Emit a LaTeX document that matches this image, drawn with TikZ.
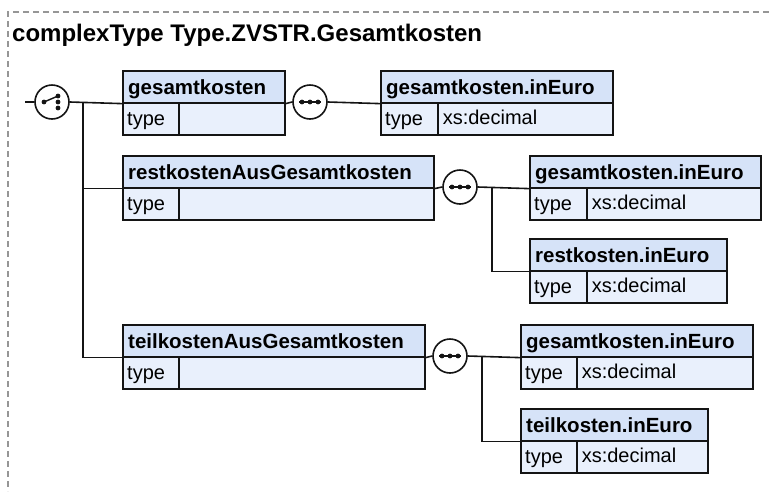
\documentclass[tikz,border=0pt]{standalone}
\usepackage{fontspec}
\setmainfont{Liberation Sans}
\definecolor{hdrc}{RGB}{214,227,248}
\definecolor{bdyc}{RGB}{233,240,252}
\definecolor{framec}{RGB}{150,150,150}
\definecolor{linec}{RGB}{20,20,20}
\tikzset{
  boxpart/.style={rectangle, draw=linec, line width=1.6pt, minimum height=32pt, inner sep=0pt, anchor=north west},
  hdrbox/.style={boxpart, fill=hdrc},
  bdybox/.style={boxpart, fill=bdyc},
  hdrtext/.style={anchor=base west, inner sep=0pt, font=\fontsize{20.5}{24}\selectfont\bfseries},
  bdytext/.style={anchor=base west, inner sep=0pt, font=\fontsize{20}{24}\selectfont},
  circ/.style={circle, draw=linec, fill=white, line width=1.6pt, minimum size=34pt, inner sep=0pt},
  conn/.style={draw=linec, line width=1.6pt},
}
% #1 name, #2 left x, #3 top y, #4 width, #5 title, #6 type column x, #7 type value
\newcommand\elbox[7]{%
  \node[bdybox, minimum width=#4] (#1b) at (#2,-#3-32) {};
  \node[bdybox, minimum width=#6-#2] (#1t) at (#2,-#3-32) {};
  \node[hdrbox, minimum width=#4] (#1) at (#2,-#3) {};
  \node[hdrtext] (#1n) at ([shift={(6,9)}]#1.south west) {#5};
  \node[bdytext] (#1k) at ([shift={(5,-22)}]#1.south west) {type};
  \node[bdytext] (#1v) at ([shift={(4,-22)}]#1t.north east) {#7};
}
\begin{document}
\begin{tikzpicture}[x=1pt,y=1pt]
\useasboundingbox (0,0) rectangle (769,-491);
% frame
\draw[framec, line width=1.3pt, dash pattern=on 6pt off 4pt] (769,-12) -- (8,-12) -- (8,-491);
% title
\node[anchor=base west, inner sep=0pt, font=\fontsize{24}{28}\selectfont\bfseries] (title) at (12,-41) {complexType Type.ZVSTR.Gesamtkosten};

% boxes
\elbox{g}{122}{70}{162}{gesamtkosten}{178}{}
\elbox{gi}{380}{70}{232}{gesamtkosten.inEuro}{437}{xs:decimal}
\elbox{r}{122}{155}{311}{restkostenAusGesamtkosten}{178}{}
\elbox{rg}{529}{155}{231}{gesamtkosten.inEuro}{586}{xs:decimal}
\elbox{rr}{529}{238}{197}{restkosten.inEuro}{586}{xs:decimal}
\elbox{t}{122}{324}{302}{teilkostenAusGesamtkosten}{178}{}
\elbox{tg}{520}{324}{232}{gesamtkosten.inEuro}{576}{xs:decimal}
\elbox{tt}{520}{408}{187}{teilkosten.inEuro}{576}{xs:decimal}

% choice
\coordinate (in) at (25,-102);
\node[circ] (ch) at (52,-102) {};
\coordinate (j1) at (83,-102);
\draw[conn] (in) -- (ch.west);
\draw[conn] (ch.east) -- (g.south west);
\draw[conn] (j1) |- (r.south west);
\draw[conn] (j1) |- (t.south west);
\draw[conn, line width=1.4pt] ([shift={(-8,0)}]ch.center) -- ([shift={(6,6)}]ch.center);
\fill[linec] ([shift={(-8,0)}]ch.center) circle (2.4);
\fill[linec] ([shift={(6,6)}]ch.center) circle (2.4);
\fill[linec] ([shift={(6,0)}]ch.center) circle (2.4);
\fill[linec] ([shift={(6,-6)}]ch.center) circle (2.4);

% sequences
\node[circ] (s1) at (310,-102) {};
\node[circ] (s2) at (460,-187) {};
\node[circ] (s3) at (450,-356) {};
\foreach \s in {s1,s2,s3}{
  \draw[conn, line width=1.4pt] ([shift={(-11,0)}]\s.center) -- ([shift={(11,0)}]\s.center);
  \fill[linec] ([shift={(-8,0)}]\s.center) circle (2.4);
  \fill[linec] ([shift={(0,0)}]\s.center) circle (2.4);
  \fill[linec] ([shift={(8,0)}]\s.center) circle (2.4);
}
\draw[conn] (g.south east) -- (s1.west);
\draw[conn] (s1.east) -- (gi.south west);

\coordinate (j2) at (492,-187);
\draw[conn] (r.south east) -- (s2.west);
\draw[conn] (s2.east) -- (rg.south west);
\draw[conn] (j2) |- (rr.south west);

\coordinate (j3) at (482,-356);
\draw[conn] (t.south east) -- (s3.west);
\draw[conn] (s3.east) -- (tg.south west);
\draw[conn] (j3) |- (tt.south west);
\end{tikzpicture}
\end{document}
